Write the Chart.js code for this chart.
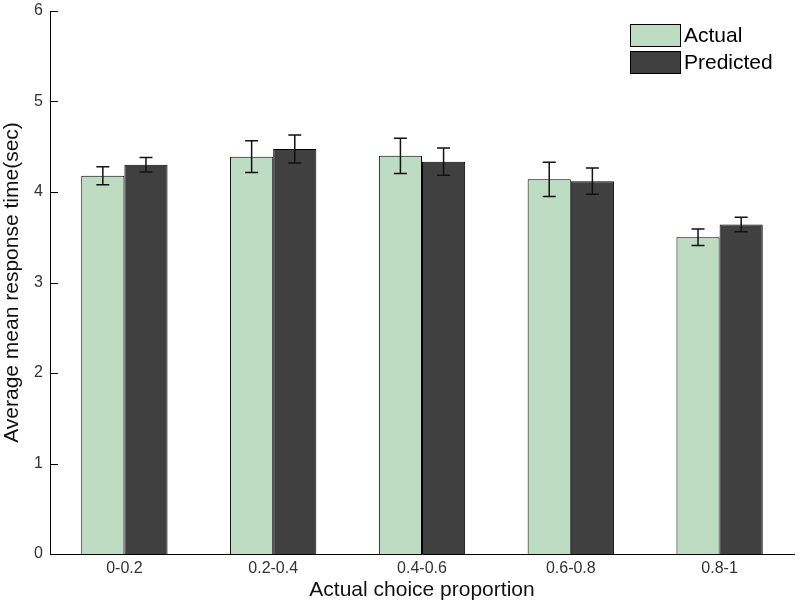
<!DOCTYPE html>
<html>
<head>
<meta charset="utf-8">
<script src="https://cdn.jsdelivr.net/npm/chart.js@4/dist/chart.umd.min.js"></script>
<style>
    html, body { margin: 0; padding: 0; background: #fff; }
    #wrap { width: 800px; height: 606px; }
</style>
</head>
<body>
<div id="wrap"><canvas id="rtChart" width="800" height="606"></canvas></div>
<script>
// Data
const categories = ['0-0.2', '0.2-0.4', '0.4-0.6', '0.6-0.8', '0.8-1'];
const actualMean = [4.18, 4.39, 4.40, 4.14, 3.50];
const actualErr = [0.10, 0.175, 0.195, 0.19, 0.09];
const predictedMean = [4.30, 4.475, 4.335, 4.12, 3.64];
const predictedErr = [0.08, 0.155, 0.15, 0.145, 0.08];
const yTicks = [0, 1, 2, 3, 4, 5, 6];

const errors = [actualErr, predictedErr];
const FONT = '"Liberation Sans", Arial, sans-serif';

// Error bars + inward y ticks + legend boxes
const extras = {
    id: 'extras',
    afterDatasetsDraw(chart) {
        const ctx = chart.ctx;
        const y = chart.scales.y;
        ctx.save();
        ctx.strokeStyle = '#111';
        ctx.lineWidth = 1.5;
        chart.data.datasets.forEach((ds, di) => {
            const meta = chart.getDatasetMeta(di);
            meta.data.forEach((bar, i) => {
                const v = ds.data[i], e = errors[di][i];
                const top = y.getPixelForValue(v + e);
                const bot = y.getPixelForValue(v - e);
                ctx.beginPath();
                ctx.moveTo(bar.x, top); ctx.lineTo(bar.x, bot);
                ctx.moveTo(bar.x - 6.5, top); ctx.lineTo(bar.x + 6.5, top);
                ctx.moveTo(bar.x - 6.5, bot); ctx.lineTo(bar.x + 6.5, bot);
                ctx.stroke();
            });
        });
        ctx.restore();
    },
    afterDraw(chart) {
        const ctx = chart.ctx;
        const y = chart.scales.y;
        const area = chart.chartArea;
        ctx.save();
        // inward tick marks on the y axis
        ctx.strokeStyle = '#000';
        ctx.lineWidth = 1;
        yTicks.forEach(t => {
            const py = Math.round(y.getPixelForValue(t)) + 0.5;
            ctx.beginPath();
            ctx.moveTo(area.left, py);
            ctx.lineTo(area.left + 8, py);
            ctx.stroke();
        });
        // legend
        const lx = area.right - 164, ly = area.top + 13;
        ctx.font = '21px ' + FONT;
        ctx.textBaseline = 'middle';
        chart.data.datasets.forEach((ds, di) => {
            const by = ly + di * 27;
            ctx.fillStyle = ds.backgroundColor;
            ctx.fillRect(lx, by, 50, 22);
            ctx.strokeStyle = '#000';
            ctx.strokeRect(lx + 0.5, by + 0.5, 50, 22);
            ctx.fillStyle = '#000';
            ctx.fillText(ds.label, lx + 54, by + 12);
        });
        ctx.restore();
    }
};

new Chart(document.getElementById('rtChart'), {
    type: 'bar',
    data: {
        labels: categories,
        datasets: [{
            label: 'Actual',
            data: actualMean,
            backgroundColor: '#bddcc1',
            borderColor: '#000',
            borderWidth: 1,
            borderSkipped: 'bottom'
        }, {
            label: 'Predicted',
            data: predictedMean,
            backgroundColor: '#404040',
            borderColor: '#000',
            borderWidth: 1,
            borderSkipped: 'bottom'
        }]
    },
    options: {
        responsive: false,
        animation: false,
        layout: { padding: { top: 11, right: 6, left: 0, bottom: 0 } },
        datasets: { bar: { categoryPercentage: 0.58, barPercentage: 1.0 } },
        scales: {
            x: {
                grid: { display: false, drawTicks: false },
                border: { display: true, color: '#000', width: 1 },
                ticks: {
                    color: '#333',
                    padding: 5,
                    font: { family: FONT, size: 16 }
                },
                title: {
                    display: true,
                    text: 'Actual choice proportion',
                    color: '#111',
                    padding: { top: 0, bottom: 3 },
                    font: { family: FONT, size: 21 }
                },
                afterFit(scale) {
                    scale.height = 52;
                    scale.paddingLeft = 0;
                    scale.paddingRight = 0;
                }
            },
            y: {
                min: 0,
                max: 6,
                grid: { display: false, drawTicks: false },
                border: { display: true, color: '#000', width: 1 },
                afterBuildTicks(scale) { scale.ticks = yTicks.map(v => ({ value: v })); },
                ticks: {
                    color: '#333',
                    padding: 7,
                    font: { family: FONT, size: 16 }
                },
                title: {
                    display: true,
                    text: 'Average mean response time(sec)',
                    color: '#111',
                    padding: { top: 0, bottom: 2 },
                    font: { family: FONT, size: 21 }
                },
                afterFit(scale) {
                    scale.width = 50;
                    scale.paddingTop = 0;
                    scale.paddingBottom = 0;
                }
            }
        },
        plugins: {
            legend: { display: false },
            tooltip: { enabled: false }
        }
    },
    plugins: [extras]
});
</script>
</body>
</html>
